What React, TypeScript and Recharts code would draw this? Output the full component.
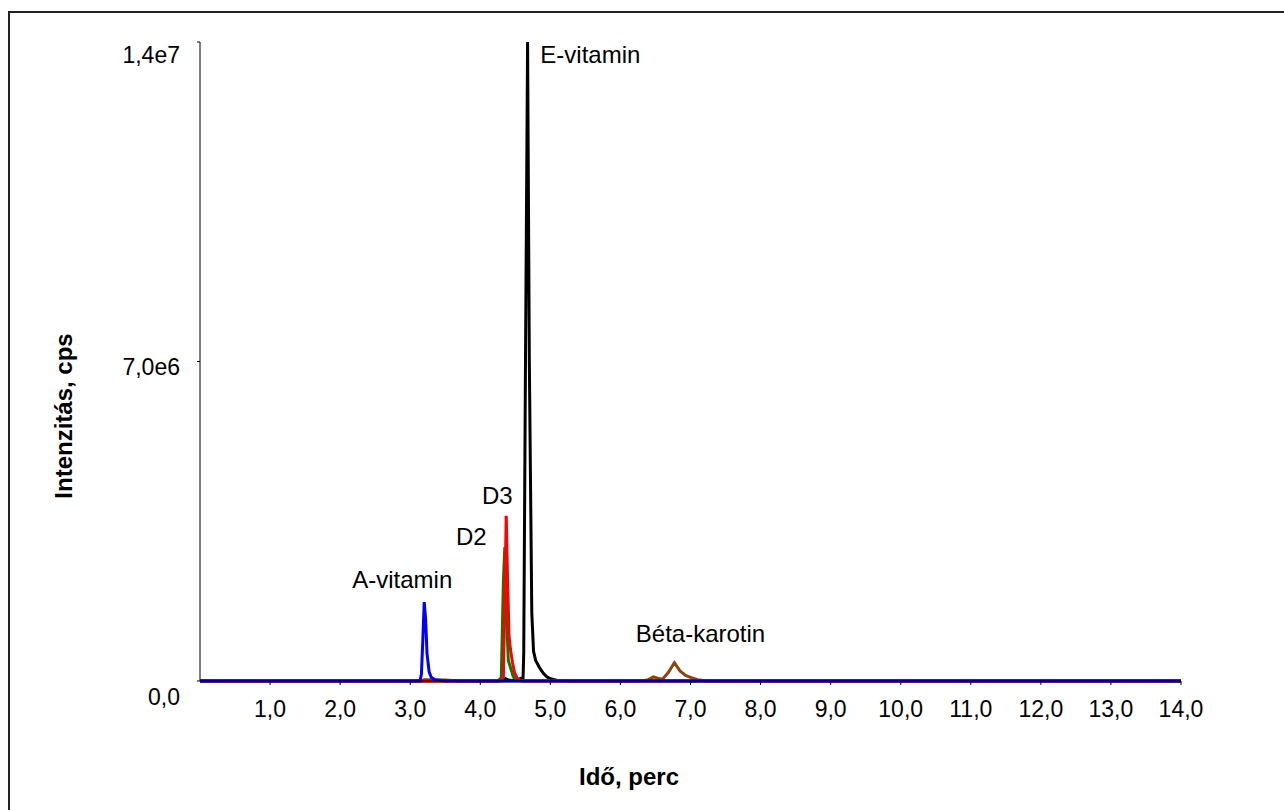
import React from 'react';
import { LineChart, Line, XAxis, YAxis, ReferenceDot, Label } from 'recharts';

// Retention time (min) and intensity (cps) for each compound trace
const aVitaminTime = [0, 3.14, 3.16, 3.18, 3.2, 3.22, 3.24, 3.27, 3.3, 3.35, 3.5, 14];
const aVitaminCps = [0, 0, 1.5e5, 9e5, 1.73e6, 1.35e6, 6e5, 2e5, 8e4, 3e4, 0, 0];

const d2Time = [0, 4.27, 4.3, 4.33, 4.35, 4.38, 4.4, 4.43, 4.47, 4.52, 4.6, 14];
const d2Cps = [0, 0, 8e4, 2.2e6, 2.93e6, 1.2e6, 4.5e5, 3e5, 1e5, 2e4, 0, 0];

const d3Time = [0, 4.3, 4.33, 4.355, 4.37, 4.39, 4.41, 4.43, 4.46, 4.49, 4.53, 4.6, 14];
const d3Cps = [0, 0, 1e5, 2.2e6, 3.62e6, 2.2e6, 1.0e6, 7e5, 4e5, 1.8e5, 5e4, 0, 0];

const eVitaminTime = [0, 4.25, 4.3, 4.33, 4.36, 4.4, 4.45, 4.5, 4.54, 4.58, 4.61, 4.62, 4.645, 4.675, 4.7, 4.735, 4.76, 4.79, 4.85, 4.9, 4.95, 5.0, 5.1, 5.3, 14];
const eVitaminCps = [0, 0, 6e4, 3e4, 5e4, 2e4, 1e4, 4e4, 3e4, 6e4, 5e4, 6e5, 7e6, 1.4e7, 7e6, 1.5e6, 6.5e5, 4.5e5, 2.8e5, 1.7e5, 9e4, 5e4, 1e4, 0, 0];

const betaTime = [0, 3.15, 3.2, 3.3, 3.5, 3.7, 6.3, 6.4, 6.47, 6.53, 6.6, 6.68, 6.77, 6.85, 6.93, 7.0, 7.1, 7.25, 14];
const betaCps = [0, 0, 3e4, 3e4, 2e4, 0, 0, 3e4, 9e4, 6e4, 4e4, 1.8e5, 4e5, 2.2e5, 1.2e5, 8e4, 3e4, 0, 0];

const xTicks = [1, 2, 3, 4, 5, 6, 7, 8, 9, 10, 11, 12, 13, 14];
const yTicks = [0, 7e6, 1.4e7];

// Peak annotation labels: text, time, intensity
const peakLabels = ['A-vitamin', 'D2', 'D3', 'E-vitamin', 'Béta-karotin'];
const peakLabelTime = [2.886, 3.871, 4.243, 5.571, 7.143];
const peakLabelCps = [2.235e6, 3.177e6, 4.064e6, 1.3726e7, 1.05e6];

const toSeries = (t: number[], v: number[]) => t.map((x, i) => ({ t: x, v: v[i] }));

const series = [
  { name: 'Béta-karotin', data: toSeries(betaTime, betaCps), color: '#8B4513' },
  { name: 'E-vitamin', data: toSeries(eVitaminTime, eVitaminCps), color: '#000000' },
  { name: 'D2', data: toSeries(d2Time, d2Cps), color: '#007F00' },
  { name: 'D3', data: toSeries(d3Time, d3Cps), color: '#FF0000' },
  { name: 'A-vitamin', data: toSeries(aVitaminTime, aVitaminCps), color: '#0000FF' },
];

const FONT = '"Liberation Sans", Arial, Helvetica, sans-serif';

const fmtX = (v: number) => v.toFixed(1).replace('.', ',');
const fmtY = (v: number) =>
  v === 0 ? '0,0' : v.toExponential(1).replace('.', ',').replace('+', '');

// baseline offset of each y tick label below its tick
const yShift: Record<string, number> = { '0': 24, '7000000': 13, '14000000': 21 };

const YTick = (props: any) => {
  const { x, y, payload } = props;
  const dy = yShift[String(payload.value)] ?? 0;
  return (
    <text x={x} y={y + dy} textAnchor="end" fontSize={23} fill="#000" fontFamily={FONT}>
      {fmtY(payload.value)}
    </text>
  );
};

export default function App() {
  return (
    <div style={{ position: 'absolute', left: 0, top: 0, width: 1284, height: 810, overflow: 'hidden', background: '#fff' }}>
      <div style={{ position: 'absolute', left: 8, top: 11, width: 1400, height: 900, border: '2px solid #222' }} />
      <div style={{ position: 'absolute', left: 0, top: 0 }}>
        <LineChart width={1284} height={810} margin={{ top: 42, right: 103, bottom: 99, left: 0 }}>
          <XAxis
            type="number"
            dataKey="t"
            domain={[0, 14]}
            ticks={xTicks}
            tickFormatter={fmtX}
            allowDuplicatedCategory={false}
            height={30}
            tickSize={4}
            tickMargin={16}
            stroke="#000"
            tick={{ fontSize: 23, fill: '#000', fontFamily: FONT }}
          >
            <Label
              content={(p: any) => {
                const vb = p.viewBox || { y: 681 };
                return (
                  <text x={629} y={vb.y + 104} textAnchor="middle" fontSize={24} fontWeight="bold" fill="#000" fontFamily={FONT}>
                    Idő, perc
                  </text>
                );
              }}
            />
          </XAxis>
          <YAxis
            type="number"
            dataKey="v"
            domain={[0, 1.4e7]}
            ticks={yTicks}
            width={200}
            tickSize={3}
            tickMargin={17}
            stroke="#000"
            tick={<YTick />}
          >
            <Label
              content={() => {
                const cx = 72;
                const cy = 416;
                return (
                  <text x={cx} y={cy} transform={`rotate(-90 ${cx} ${cy})`} textAnchor="middle" fontSize={24} fontWeight="bold" fill="#000" fontFamily={FONT}>
                    Intenzitás, cps
                  </text>
                );
              }}
            />
          </YAxis>
          {series.map((s) => (
            <Line
              key={s.name}
              data={s.data}
              dataKey="v"
              name={s.name}
              type="linear"
              stroke={s.color}
              strokeWidth={3}
              dot={false}
              activeDot={false}
              isAnimationActive={false}
            />
          ))}
          {peakLabels.map((txt, i) => (
            <ReferenceDot
              key={txt}
              x={peakLabelTime[i]}
              y={peakLabelCps[i]}
              r={1}
              fill="none"
              stroke="none"
              label={{ value: txt, position: 'center', fontSize: 24, fill: '#000', fontFamily: FONT }}
            />
          ))}
        </LineChart>
      </div>
    </div>
  );
}
